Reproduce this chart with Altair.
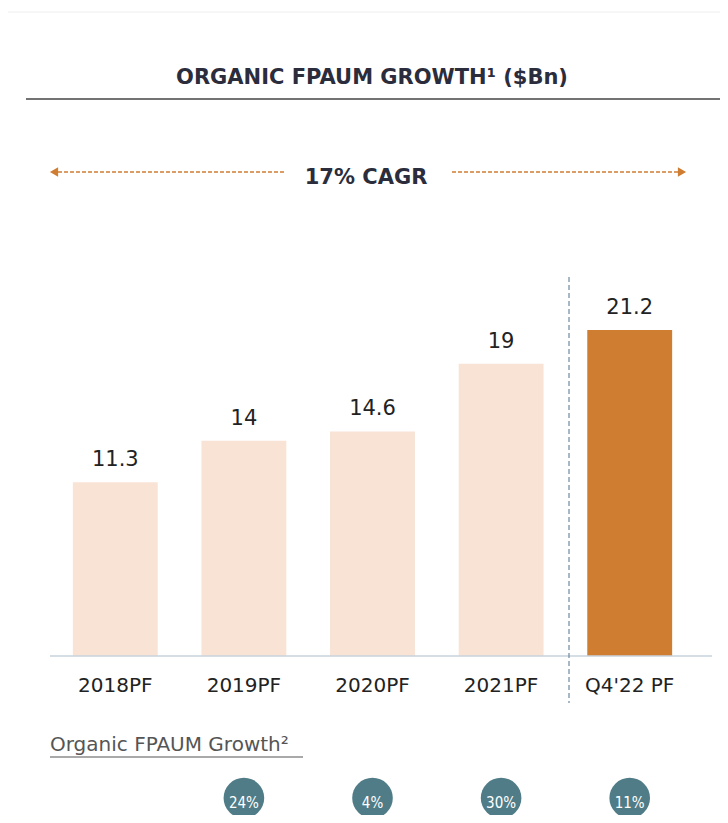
import altair as alt
import pandas as pd

categories = ["2018PF", "2019PF", "2020PF", "2021PF", "Q4'22 PF"]
values = [11.3, 14, 14.6, 19, 21.2]
highlight = [False, False, False, False, True]

growth_categories = ["2019PF", "2020PF", "2021PF", "Q4'22 PF"]
growth_labels = ["24%", "4%", "30%", "11%"]

title_text = "ORGANIC FPAUM GROWTH¹ ($Bn)"
cagr_text = "17% CAGR"
subtitle_text = "Organic FPAUM Growth²"

FONT = "DejaVu Sans"
LIGHT = "#f8e3d5"
ORANGE = "#cf7d31"
TEAL = "#4f7c87"
DARK = "#2b2d3c"

df = pd.DataFrame({
    "cat": categories,
    "value": values,
    "label": [f"{v:g}" for v in values],
    "hl": highlight,
})
gdf = pd.DataFrame({"cat": growth_categories, "label": growth_labels})

xscale = alt.Scale(domain=categories, range=[43, 686], paddingInner=0.34, paddingOuter=0.17)
yscale = alt.Scale(domain=[0, 21.2], range=[648, 322], nice=False, zero=True)


def one(t):
    return pd.DataFrame({"t": [t]})


top_line = alt.Chart(one("")).mark_rule(color="#eeeeee", strokeWidth=1).encode(
    x=alt.value(0), x2=alt.value(712), y=alt.value(4))

title = alt.Chart(one(title_text)).mark_text(
    font=FONT, fontWeight="bold", fontSize=21, color=DARK, baseline="alphabetic", align="center"
).encode(x=alt.value(364), y=alt.value(76), text="t:N")

title_rule = alt.Chart(one("")).mark_rule(color="#444444", strokeWidth=1.5).encode(
    x=alt.value(18), x2=alt.value(712), y=alt.value(91))

cagr = alt.Chart(one(cagr_text)).mark_text(
    font=FONT, fontWeight="bold", fontSize=21, color=DARK, baseline="alphabetic", align="center"
).encode(x=alt.value(358), y=alt.value(176), text="t:N")

left_dash = alt.Chart(one("")).mark_rule(color=ORANGE, strokeWidth=1.3, strokeDash=[4, 2]).encode(
    x=alt.value(44), x2=alt.value(277), y=alt.value(164))
right_dash = alt.Chart(one("")).mark_rule(color=ORANGE, strokeWidth=1.3, strokeDash=[4, 2]).encode(
    x=alt.value(444), x2=alt.value(676), y=alt.value(164))
left_head = alt.Chart(one("")).mark_point(shape="triangle-left", filled=True, color=ORANGE, size=90, opacity=1).encode(
    x=alt.value(46), y=alt.value(164))
right_head = alt.Chart(one("")).mark_point(shape="triangle-right", filled=True, color=ORANGE, size=90, opacity=1).encode(
    x=alt.value(674), y=alt.value(164))

bars = alt.Chart(df).mark_bar().encode(
    x=alt.X("cat:N", scale=xscale, sort=categories, axis=None),
    y=alt.Y("value:Q", scale=yscale, axis=None),
    color=alt.Color("hl:N", scale=alt.Scale(domain=[False, True], range=[LIGHT, ORANGE]), legend=None),
)

value_labels = alt.Chart(df).mark_text(
    font=FONT, fontSize=21, color="#222222", baseline="alphabetic", dy=-16
).encode(x=alt.X("cat:N", scale=xscale, sort=categories), y=alt.Y("value:Q", scale=yscale), text="label:N")

tick_labels = alt.Chart(df).mark_text(
    font=FONT, fontSize=20, color="#222222", baseline="alphabetic"
).encode(x=alt.X("cat:N", scale=xscale, sort=categories), y=alt.value(684), text="cat:N")

axis_line = alt.Chart(one("")).mark_rule(color="#c9d3dc", strokeWidth=1.5).encode(
    x=alt.value(42), x2=alt.value(704), y=alt.value(648))

divider = alt.Chart(one("")).mark_rule(color="#6f8aa0", strokeWidth=1.2, strokeDash=[5, 3]).encode(
    x=alt.value(561), y=alt.value(269), y2=alt.value(695))

subtitle = alt.Chart(one(subtitle_text)).mark_text(
    font=FONT, fontSize=20, color="#555555", baseline="alphabetic", align="left"
).encode(x=alt.value(42), y=alt.value(743), text="t:N")
sub_rule = alt.Chart(one("")).mark_rule(color="#555555", strokeWidth=1.2).encode(
    x=alt.value(42), x2=alt.value(295), y=alt.value(749))

circles = alt.Chart(gdf).mark_point(shape="circle", filled=True, color=TEAL, size=1650, opacity=1).encode(
    x=alt.X("cat:N", scale=xscale, sort=categories), y=alt.value(790))
circle_text = alt.Chart(gdf).mark_text(
    font="Liberation Sans Narrow, DejaVu Sans Condensed, sans-serif", fontSize=15, color="white", baseline="middle"
).encode(x=alt.X("cat:N", scale=xscale, sort=categories), y=alt.value(795), text="label:N")

chart = alt.layer(
    top_line, title, title_rule, cagr, left_dash, right_dash, left_head, right_head,
    bars, value_labels, tick_labels, axis_line, divider, subtitle, sub_rule, circles, circle_text
).properties(
    width=712, height=807, padding=0, autosize=alt.AutoSizeParams(type="none")
).configure_view(stroke=None)

chart.save("out.html", embed_options={"renderer": "svg", "actions": False})
